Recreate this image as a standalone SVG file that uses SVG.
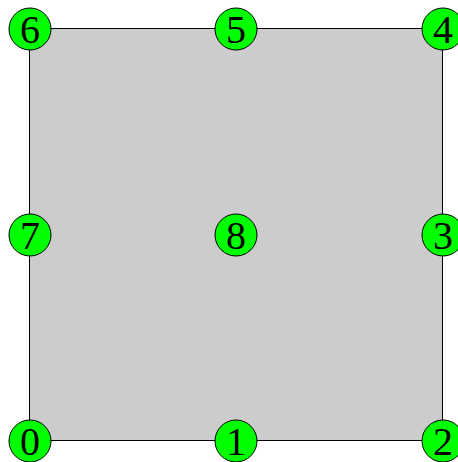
<svg xmlns="http://www.w3.org/2000/svg" width="458" height="462" viewBox="0 0 458 462">
<style>
.n circle{fill:#00ff00;stroke:#000;stroke-width:1}
.n text{font-family:"Liberation Serif","Times New Roman",serif;font-size:40px;text-anchor:middle;fill:#000}
</style>
<rect width="458" height="462" fill="#fff"/>
<g id="connectors">
<rect x="29.5" y="28.5" width="413" height="412" fill="#cccccc" stroke="#000" stroke-width="1"/>
</g>
<g id="n0" class="n"><circle cx="30" cy="441" r="21"/><text x="30" y="455">0</text></g>
<g id="n1" class="n"><circle cx="236" cy="441" r="21"/><text x="236" y="455">1</text></g>
<g id="n2" class="n"><circle cx="443" cy="441" r="21"/><text x="443" y="455">2</text></g>
<g id="n3" class="n"><circle cx="443" cy="235" r="21"/><text x="443" y="249">3</text></g>
<g id="n4" class="n"><circle cx="443" cy="29" r="21"/><text x="443" y="43">4</text></g>
<g id="n5" class="n"><circle cx="236" cy="29" r="21"/><text x="236" y="43">5</text></g>
<g id="n6" class="n"><circle cx="30" cy="29" r="21"/><text x="30" y="43">6</text></g>
<g id="n7" class="n"><circle cx="30" cy="235" r="21"/><text x="30" y="249">7</text></g>
<g id="n8" class="n"><circle cx="236" cy="235" r="21"/><text x="236" y="249">8</text></g>
</svg>
